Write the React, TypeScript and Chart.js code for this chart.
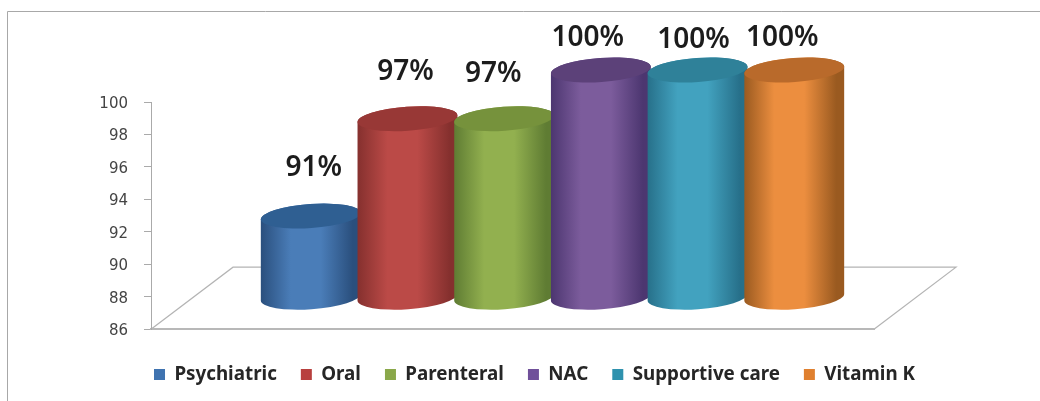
import React, { useEffect, useRef } from "react";
import { Chart, registerables } from "chart.js";

Chart.register(...registerables);

const categories = ["Treatment"];
const seriesNames = ["Psychiatric", "Oral", "Parenteral", "NAC", "Supportive care", "Vitamin K"];
const seriesValues = [91, 97, 97, 100, 100, 100];
const valueLabels = ["91%", "97%", "97%", "100%", "100%", "100%"];
const swatchColors = ["#3f73b0", "#b8403e", "#8aa84a", "#70509a", "#2f92ae", "#e0802f"];
const bodyMid = ["#4a7db8", "#bb4a47", "#92b04f", "#7c5c9c", "#42a2bf", "#ec8e3f"];
const bodyEdge = ["#2a4f7d", "#85302e", "#5f7c33", "#4c3670", "#27708a", "#9a5a20"];
const capColors = ["#2f5f92", "#983836", "#76923c", "#5c4179", "#2f8199", "#b96a2b"];

// Hand-placed label offsets from the top of each cylinder, as in the source figure.
const labelNudgeX = [3, -2, -11, -13, -4, -12];
const labelNudgeY = [-48, -47, -45, -32, -30, -32];

const DEPTH_X = 82;
const DEPTH_Y = 62;
const BAR_DX = 40;
const BAR_DY = 32;
const CAP_RY = 12;
const TILT = -0.07;

const cylinderPlugin = {
  id: "cylinder3d",
  beforeDraw(chart: any) {
    const { ctx, chartArea: a } = chart;
    ctx.save();
    ctx.fillStyle = "#fff";
    ctx.fillRect(0, 0, chart.width, chart.height);
    ctx.strokeStyle = "#a8a8a8";
    ctx.lineWidth = 1;
    ctx.beginPath();
    ctx.moveTo(7.5, chart.height);
    ctx.lineTo(7.5, 11.5);
    ctx.lineTo(chart.width, 11.5);
    ctx.stroke();
    // perspective floor
    ctx.strokeStyle = "#b4b4b4";
    ctx.lineWidth = 1.2;
    ctx.beginPath();
    ctx.moveTo(a.left, a.bottom);
    ctx.lineTo(a.left + DEPTH_X, a.bottom - DEPTH_Y);
    ctx.lineTo(a.right + DEPTH_X, a.bottom - DEPTH_Y);
    ctx.lineTo(a.right, a.bottom);
    ctx.stroke();
    ctx.restore();
  },
  beforeDatasetDraw() {
    return false;
  },
  afterDatasetsDraw(chart: any) {
    const { ctx } = chart;
    const yScale = chart.scales.y;
    ctx.save();
    seriesNames.forEach((_, i) => {
      const bar = chart.getDatasetMeta(i).data[0];
      const cx = bar.x + BAR_DX;
      const rx = (bar.width * 1.035) / 2;
      const top = bar.y - BAR_DY;
      const base = yScale.getPixelForValue(yScale.min) - BAR_DY;
      const g = ctx.createLinearGradient(cx - rx, 0, cx + rx, 0);
      g.addColorStop(0, bodyEdge[i]);
      g.addColorStop(0.3, bodyMid[i]);
      g.addColorStop(0.6, bodyMid[i]);
      g.addColorStop(0.92, bodyEdge[i]);
      g.addColorStop(1, bodyEdge[i]);
      ctx.fillStyle = g;
      ctx.beginPath();
      ctx.ellipse(cx, base, rx, CAP_RY, TILT, Math.PI, 0, true);
      ctx.ellipse(cx, top, rx, CAP_RY, TILT, 0, Math.PI, true);
      ctx.closePath();
      ctx.fill();
      ctx.fillStyle = capColors[i];
      ctx.beginPath();
      ctx.ellipse(cx, top, rx, CAP_RY, TILT, 0, Math.PI * 2);
      ctx.fill();
    });
    ctx.fillStyle = "#1c1c1c";
    ctx.font = '600 28px "Noto Sans"';
    ctx.textAlign = "center";
    ctx.textBaseline = "middle";
    seriesNames.forEach((_, i) => {
      const bar = chart.getDatasetMeta(i).data[0];
      ctx.fillText(valueLabels[i], bar.x + BAR_DX + labelNudgeX[i], bar.y - BAR_DY + labelNudgeY[i]);
    });
    ctx.restore();
  },
};

export default function App() {
  const ref = useRef<HTMLCanvasElement>(null);
  useEffect(() => {
    const chart = new Chart(ref.current as HTMLCanvasElement, {
      type: "bar",
      data: {
        labels: categories,
        datasets: seriesNames.map((name, i) => ({
          label: name,
          data: [seriesValues[i]],
          backgroundColor: swatchColors[i],
          borderWidth: 0,
          categoryPercentage: 0.8025,
          barPercentage: 1,
        })),
      },
      options: {
        responsive: false,
        animation: false,
        devicePixelRatio: 1,
        layout: { padding: { top: 102, left: 29, right: 0, bottom: 7 } },
        plugins: {
          tooltip: { enabled: false },
          legend: {
            position: "bottom",
            labels: {
              boxWidth: 11,
              boxHeight: 11,
              padding: 24,
              color: "#262626",
              font: { family: '"Noto Sans"', size: 18.8, weight: "bold" },
            },
          },
        },
        scales: {
          x: {
            grid: { display: false },
            border: { display: true, color: "#b8b8b8", width: 2 },
            ticks: { display: false },
            afterFit(scale: any) {
              scale.height = 12;
            },
          },
          y: {
            min: 86,
            max: 100,
            ticks: {
              stepSize: 2,
              padding: 16,
              labelOffset: 2,
              color: "#444",
              font: { family: '"DejaVu Sans"', size: 15 },
            },
            grid: { drawOnChartArea: false, tickLength: 7, color: "#aaa" },
            border: { display: true, color: "#aaa" },
            afterFit(scale: any) {
              scale.width = 122;
            },
          },
          pad: {
            position: "right",
            display: true,
            grid: { display: false },
            border: { display: false },
            ticks: { display: false },
            afterFit(scale: any) {
              scale.width = 166;
            },
          },
        },
      },
      plugins: [cylinderPlugin],
    } as any);
    return () => chart.destroy();
  }, []);
  return (
    <div style={{ position: "absolute", left: 0, top: 0, width: 1040, height: 401 }}>
      <canvas ref={ref} width={1040} height={401} style={{ display: "block", filter: "blur(0.4px)" }} />
    </div>
  );
}
